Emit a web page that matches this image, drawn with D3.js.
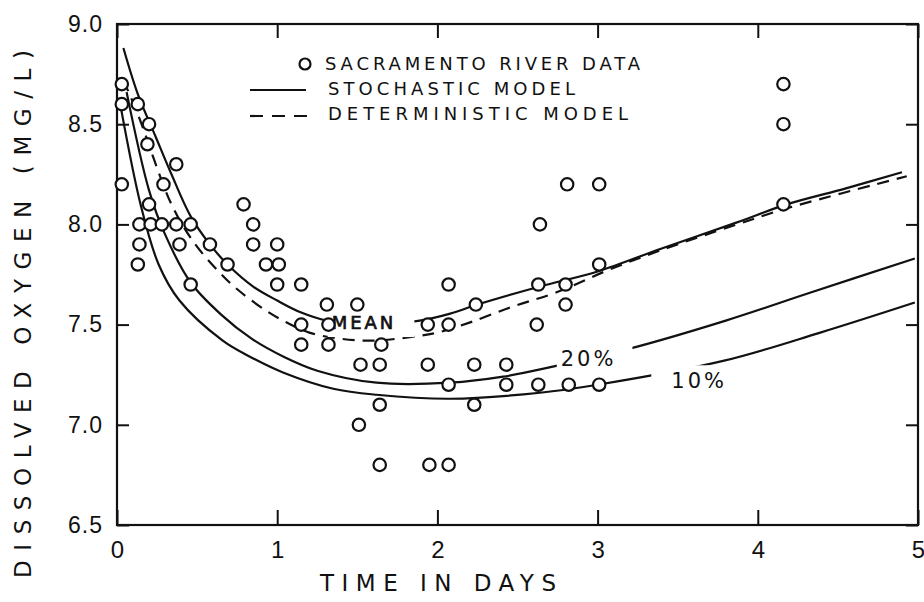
<!DOCTYPE html>
<html>
<head>
<meta charset="utf-8">
<script src="https://cdn.jsdelivr.net/npm/d3@7"></script>
<style>
  body { margin: 0; background: #fff; }
  svg { display: block; font-family: "DejaVu Sans", sans-serif; }
</style>
</head>
<body>
<div class="container"></div>
<script>
// Sacramento river observations (days, mg/L)
const obsDays = [0.03,0.03,0.03,0.13,0.20,0.19,0.37,0.29,0.20,0.14,0.21,0.28,0.37,0.46,0.14,0.39,0.58,0.13,0.69,0.46,
                 0.79,0.85,0.85,1.00,0.93,1.01,1.00,1.15,1.31,1.50,1.15,1.32,1.15,1.32,1.65,1.52,1.64,1.64,1.51,1.64,
                 1.95,2.07,1.94,2.07,1.94,2.07,2.07,2.24,2.23,2.23,2.43,2.43,2.62,2.63,2.64,2.63,2.80,2.80,2.81,2.82,
                 3.01,3.01,3.01,4.16,4.16,4.16]
const obsDO   = [8.7,8.6,8.2,8.6,8.5,8.4,8.3,8.2,8.1,8.0,8.0,8.0,8.0,8.0,7.9,7.9,7.9,7.8,7.8,7.7,
                 8.1,8.0,7.9,7.9,7.8,7.8,7.7,7.7,7.6,7.6,7.5,7.5,7.4,7.4,7.4,7.3,7.3,7.1,7.0,6.8,
                 6.8,6.8,7.5,7.5,7.3,7.2,7.7,7.6,7.3,7.1,7.3,7.2,7.5,7.7,8.0,7.2,7.7,7.6,8.2,7.2,
                 8.2,7.8,7.2,8.7,8.5,8.1]

// stochastic model, mean
const meanDays = [0.04,0.13,0.24,0.34,0.46,0.58,0.69,0.85,1.0,1.15,1.31,1.6,1.89,2.08,2.25,2.64,3.0,3.4,3.87,4.18,4.55,4.9]
const meanDO   = [8.88,8.65,8.44,8.25,8.04,7.9,7.8,7.69,7.62,7.56,7.52,7.5,7.52,7.555,7.6,7.69,7.765,7.88,8.01,8.1,8.18,8.26]
// stochastic model, 20% and 10% levels
const p20Days = [0.06,0.2,0.3,0.46,0.65,0.84,1.04,1.25,1.62,2.08,2.41,2.72,3.2,3.8,4.33,4.98]
const p20DO   = [8.66,8.17,7.95,7.71,7.55,7.43,7.34,7.27,7.21,7.21,7.24,7.29,7.38,7.52,7.66,7.83]
const p10Days = [0.02,0.15,0.26,0.39,0.66,0.83,1.04,1.35,1.62,2.08,2.64,3.0,3.79,4.39,4.98]
const p10DO   = [8.6,8.09,7.8,7.62,7.42,7.34,7.26,7.18,7.15,7.13,7.16,7.2,7.32,7.46,7.61]
// deterministic model
const detDays = [0.04,0.13,0.34,0.48,0.64,0.76,0.93,1.06,1.2,1.39,1.6,1.85,2.0,2.2,2.47,2.74,3.06,3.39,3.87,4.18,4.93]
const detDO   = [8.72,8.55,8.1,7.91,7.76,7.67,7.57,7.51,7.46,7.43,7.42,7.44,7.46,7.51,7.59,7.66,7.77,7.87,8.0,8.08,8.24]

const xTicks = [0,1,2,3,4,5]
const yTicks = [6.5,7.0,7.5,8.0,8.5,9.0]
const legendLabels = ["SACRAMENTO RIVER DATA","STOCHASTIC MODEL","DETERMINISTIC MODEL"]
const legendWidths = [315, 247, 300]

const width = 924
const height = 602
const margin = {top: 24, right: 6, bottom: 77, left: 117}
const ink = "#111"

const x = d3.scaleLinear().domain([0,5]).range([margin.left, width - margin.right])
const y = d3.scaleLinear().domain([6.5,9.0]).range([height - margin.bottom, margin.top])

const svg = d3.select(".container").append("svg")
    .attr("width", width)
    .attr("height", height)

svg.append("rect").attr("width", width).attr("height", height).attr("fill", "#fff")

// axes with inward ticks on all four sides
const gx = svg.append("g")
    .attr("transform", `translate(0,${y(6.5)})`)
    .call(d3.axisBottom(x).tickValues(xTicks).tickSizeInner(-15).tickSizeOuter(0).tickPadding(16).tickFormat(d3.format("d")))
const gy = svg.append("g")
    .attr("transform", `translate(${x(0)},0)`)
    .call(d3.axisLeft(y).tickValues(yTicks).tickSizeInner(-12).tickSizeOuter(0).tickPadding(14).tickFormat(d3.format(".1f")))
svg.append("g")
    .attr("transform", `translate(0,${y(9)})`)
    .call(d3.axisTop(x).tickValues(xTicks).tickSizeInner(-14).tickSizeOuter(0).tickFormat(""))
svg.append("g")
    .attr("transform", `translate(${x(5)},0)`)
    .call(d3.axisRight(y).tickValues(yTicks).tickSizeInner(-12).tickSizeOuter(0).tickFormat(""))

svg.selectAll(".domain").remove()
svg.selectAll(".tick line").attr("stroke", ink).attr("stroke-width", 2)
gx.selectAll("text").attr("font-size", 24).attr("fill", ink)
gy.selectAll("text").attr("font-size", 23).attr("fill", ink).attr("letter-spacing", 1)

svg.append("rect")
    .attr("x", x(0)).attr("y", y(9))
    .attr("width", x(5) - x(0)).attr("height", y(6.5) - y(9))
    .attr("fill", "none").attr("stroke", ink).attr("stroke-width", 2.2)

// axis titles
svg.append("text")
    .attr("x", 320)
    .attr("y", 591)
    .attr("font-size", 23)
    .attr("textLength", 236)
    .attr("lengthAdjust", "spacing")
    .attr("fill", ink)
    .text("TIME  IN  DAYS")

svg.append("text")
    .attr("transform", "translate(31,578) rotate(-90)")
    .attr("font-size", 23)
    .attr("textLength", 528)
    .attr("lengthAdjust", "spacing")
    .attr("fill", ink)
    .text("DISSOLVED OXYGEN (MG/L)")

// model curves
const line = d3.line().x(d => x(d[0])).y(d => y(d[1])).curve(d3.curveCatmullRom.alpha(0.5))
const curves = [
  {days: meanDays, vals: meanDO, dash: null},
  {days: p20Days, vals: p20DO, dash: null},
  {days: p10Days, vals: p10DO, dash: null},
  {days: detDays, vals: detDO, dash: "12,8"}
]
svg.selectAll(".curve")
    .data(curves)
    .enter()
    .append("path")
    .attr("class", "curve")
    .attr("d", c => line(d3.zip(c.days, c.vals)))
    .attr("fill", "none")
    .attr("stroke", ink)
    .attr("stroke-width", 2.2)
    .attr("stroke-dasharray", c => c.dash)

// in-line curve labels, knocked out of the lines
const curveLabels = [
  {text: "MEAN", t: 1.34, v: 7.51, size: 18, stroke: 0.7, padL: 4, padR: 18},
  {text: "20%", t: 2.77, v: 7.33, size: 21, stroke: 0, padL: 4, padR: 16},
  {text: "10%", t: 3.46, v: 7.22, size: 21, stroke: 0, padL: 20, padR: 4}
]
curveLabels.forEach(l => {
  const g = svg.append("g")
  const r = g.append("rect").attr("fill", "#fff")
  const t = g.append("text")
      .attr("x", x(l.t)).attr("y", y(l.v))
      .attr("dy", "0.36em")
      .attr("font-size", l.size)
      .attr("letter-spacing", 3)
      .attr("fill", ink)
      .attr("stroke", ink)
      .attr("stroke-width", l.stroke)
      .text(l.text)
  const b = t.node().getBBox()
  r.attr("x", b.x - l.padL).attr("y", b.y - 4)
   .attr("width", b.width + l.padL + l.padR).attr("height", b.height + 8)
})

// observations
svg.selectAll(".obs")
    .data(d3.zip(obsDays, obsDO))
    .enter()
    .append("circle")
    .attr("class", "obs")
    .attr("cx", d => x(d[0]))
    .attr("cy", d => y(d[1]))
    .attr("r", 6.2)
    .attr("fill", "#fff")
    .attr("stroke", ink)
    .attr("stroke-width", 2.2)

// legend
const legend = svg.append("g")
legend.append("circle").attr("cx", 305).attr("cy", 64).attr("r", 5.5)
    .attr("fill", "#fff").attr("stroke", ink).attr("stroke-width", 2.2)
legend.append("line").attr("x1", 250).attr("x2", 306).attr("y1", 90).attr("y2", 90)
    .attr("stroke", ink).attr("stroke-width", 2.2)
legend.append("line").attr("x1", 250).attr("x2", 308).attr("y1", 116).attr("y2", 116)
    .attr("stroke", ink).attr("stroke-width", 2.2).attr("stroke-dasharray", "13,9")
legend.selectAll("text")
    .data(legendLabels)
    .enter()
    .append("text")
    .attr("x", (d,i) => i == 0 ? 325 : 328)
    .attr("y", (d,i) => 70 + i * 25)
    .attr("font-size", 18)
    .attr("textLength", (d,i) => legendWidths[i])
    .attr("lengthAdjust", "spacing")
    .attr("fill", ink)
    .text(d => d)
</script>
</body>
</html>
